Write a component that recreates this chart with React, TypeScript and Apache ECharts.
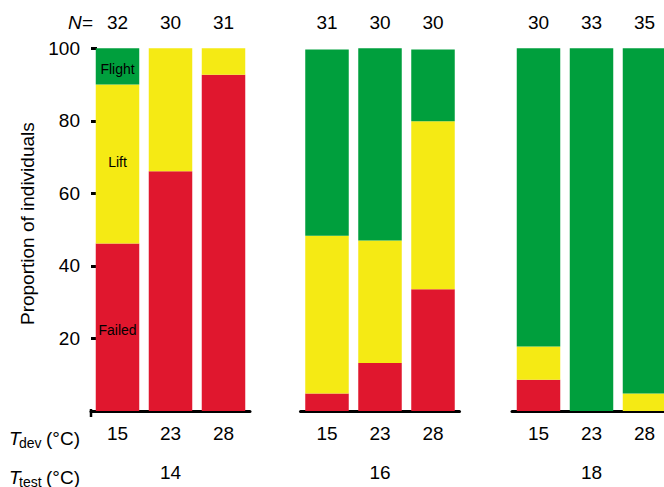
import React, { useEffect, useRef } from "react";
import * as echarts from "echarts";

// Developmental temperature (per bar) and test temperature (per panel)
const tDev = ["15", "23", "28"];
const tTest = ["14", "16", "18"];
// Sample sizes per bar, one list per test temperature
const nCounts = [
  ["32", "30", "31"],
  ["31", "30", "30"],
  ["30", "33", "35"],
];
// Proportion of individuals (%) in each outcome, per panel
const failed = [
  [46.2, 66.1, 92.7],
  [4.8, 13.2, 33.6],
  [8.6, 0, 0],
];
const lift = [
  [43.8, 33.9, 7.3],
  [43.5, 33.8, 46.3],
  [9.2, 0, 4.8],
];
const flight = [
  [10.0, 0, 0],
  [51.4, 53.0, 19.8],
  [82.2, 100, 95.2],
];
const yTicks = [20, 40, 60, 80, 100];
const outcomeNames = ["Failed", "Lift", "Flight"];

const FONT = "'Liberation Sans', Arial, Helvetica, sans-serif";
const COLORS = ["#E0172E", "#F5EA14", "#009F3D"];
const GRID_LEFTS = [91, 300.5, 512];
const GRID_W = 159;
const GRID_TOP = 48.3;
const GRID_H = 367.2;

export default function App() {
  const ref = useRef<HTMLDivElement>(null);

  useEffect(() => {
    if (!ref.current) return;
    const chart = echarts.init(ref.current, null, { renderer: "svg" });

    const grids = GRID_LEFTS.map((left) => ({
      left,
      top: GRID_TOP,
      width: GRID_W,
      height: GRID_H,
    }));

    const xAxes: any[] = [];
    const yAxes: any[] = [];
    const series: any[] = [];

    GRID_LEFTS.forEach((_, p) => {
      // bottom axis: developmental temperature, with test temperature as name
      xAxes.push({
        type: "category",
        gridIndex: p,
        position: "bottom",
        data: tDev,
        axisLine: { show: true, lineStyle: { color: "#000", width: 3 } },
        axisTick: { show: false },
        axisLabel: {
          color: "#000",
          fontSize: 19,
          fontFamily: FONT,
          margin: 13,
        },
        name: tTest[p],
        nameLocation: "middle",
        nameGap: 52,
        nameTextStyle: { color: "#000", fontSize: 19, fontFamily: FONT },
      });
      // top axis: sample sizes
      xAxes.push({
        type: "category",
        gridIndex: p,
        position: "top",
        data: nCounts[p],
        axisLine: { show: false },
        axisTick: { show: false },
        axisLabel: {
          color: "#000",
          fontSize: 19,
          fontFamily: FONT,
          margin: 16,
        },
      });
      yAxes.push({
        type: "value",
        gridIndex: p,
        min: 0,
        max: 100,
        interval: 20,
        show: p === 0,
        splitLine: { show: false },
        axisLine: { show: false },
        axisTick: {
          show: p === 0,
          inside: true,
          length: 6,
          lineStyle: { color: "#000", width: 3 },
          customValues: yTicks,
        },
        axisLabel: {
          show: p === 0,
          color: "#000",
          fontSize: 19,
          fontFamily: FONT,
          margin: 11,
          customValues: yTicks,
        },
        name: p === 0 ? "Proportion of individuals" : "",
        nameLocation: "middle",
        nameGap: 54,
        nameRotate: 90,
        nameTextStyle: {
          color: "#000",
          fontSize: 19,
          fontFamily: FONT,
          padding: [0, 0, 0, 12],
        },
      });

      const groups = [failed[p], lift[p], flight[p]];
      const labelOffsets = [
        [0, 2.5],
        [0, -2.5],
        [0, 2.5],
      ];
      groups.forEach((vals, k) => {
        series.push({
          type: "bar",
          name: outcomeNames[k],
          xAxisIndex: p * 2,
          yAxisIndex: p,
          stack: "panel" + p,
          barWidth: 43.5,
          itemStyle: { color: COLORS[k] },
          data: vals.map((v, i) =>
            p === 0 && i === 0
              ? {
                  value: v,
                  label: {
                    show: true,
                    position: "inside",
                    formatter: outcomeNames[k],
                    color: "#000",
                    fontSize: 14,
                    fontFamily: FONT,
                    offset: labelOffsets[k],
                  },
                }
              : v
          ),
        });
      });
    });

    const rowLabel = (main: string, sub: string, y: number) => ({
      type: "group",
      children: [
        {
          type: "text",
          x: 9,
          y,
          style: {
            text: main,
            font: `italic 19px ${FONT}`,
            fill: "#000",
            verticalAlign: "middle",
          },
        },
        {
          type: "text",
          x: 19,
          y: y + 5,
          style: {
            text: sub,
            font: `14px ${FONT}`,
            fill: "#000",
            verticalAlign: "middle",
          },
        },
        {
          type: "text",
          x: 46,
          y,
          style: {
            text: "(°C)",
            font: `19px ${FONT}`,
            fill: "#000",
            verticalAlign: "middle",
          },
        },
      ],
    });

    chart.setOption({
      animation: false,
      backgroundColor: "#fff",
      grid: grids,
      xAxis: xAxes,
      yAxis: yAxes,
      series,
      graphic: [
        {
          type: "text",
          x: 68,
          y: 22,
          style: {
            text: "N",
            font: `italic 19px ${FONT}`,
            fill: "#000",
            verticalAlign: "middle",
          },
        },
        {
          type: "text",
          x: 82,
          y: 22,
          style: {
            text: "=",
            font: `19px ${FONT}`,
            fill: "#000",
            verticalAlign: "middle",
          },
        },
        {
          type: "line",
          shape: { x1: 91, y1: 409, x2: 91, y2: 417 },
          style: { stroke: "#000", lineWidth: 2.5 },
        },
        rowLabel("T", "dev", 438),
        rowLabel("T", "test", 477),
      ],
    });

    return () => chart.dispose();
  }, []);

  return (
    <div
      ref={ref}
      style={{
        position: "fixed",
        left: 0,
        top: 0,
        width: 680,
        height: 487,
        background: "#fff",
      }}
    />
  );
}
